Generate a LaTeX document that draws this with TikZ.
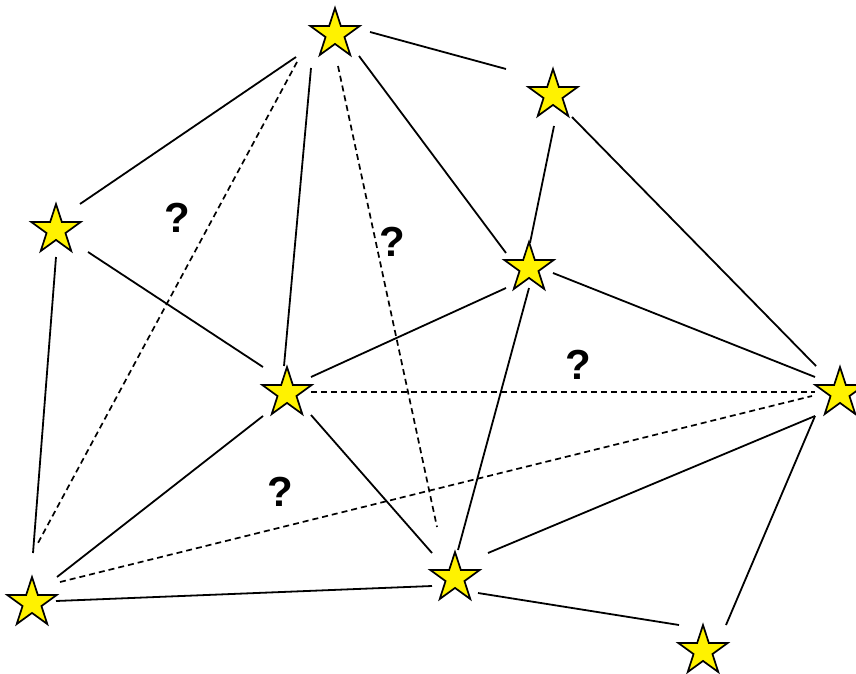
\documentclass[tikz,border=0pt]{standalone}
\usepackage{fontspec}
\setmainfont{Liberation Sans}
\usetikzlibrary{shapes.geometric}
\tikzset{
  starnode/.style={star, star points=5, star point ratio=2.618, minimum size=52pt,
    inner sep=0pt, draw=black, fill=yellow, line width=1.7pt, line join=miter},
  edge/.style={draw=black, line width=1.8pt},
  guess/.style={draw=black, line width=1.7pt, dash pattern=on 6pt off 4pt},
  qmark/.style={font=\fontsize{42}{42}\selectfont\bfseries, inner sep=0pt}
}
\begin{document}
\begin{tikzpicture}[x=1pt,y=-1pt]
  \fill[white] (0,0) rectangle (856,674);
  \useasboundingbox (0,0) rectangle (856,674);

  % stars
  \node[starnode] (A) at (335,34) {};
  \node[starnode] (B) at (553,95) {};
  \node[starnode] (C) at (56,230) {};
  \node[starnode] (D) at (529,268) {};
  \node[starnode] (E) at (287,393) {};
  \node[starnode] (F) at (840,393) {};
  \node[starnode] (G) at (32,603) {};
  \node[starnode] (H) at (455,578) {};
  \node[starnode] (I) at (703,651) {};

  % known links
  \draw[edge] ([shift={(35,-2)}]A.center) -- ([shift={(-47,-26)}]B.center);
  \draw[edge] ([shift={(-39,23)}]A.center) -- ([shift={(24,-26)}]C.center);
  \draw[edge] ([shift={(-24,34)}]A.center) -- ([shift={(-3,-27)}]E.center);
  \draw[edge] ([shift={(24,22)}]A.center) -- ([shift={(-23,-15)}]D.center);
  \draw[edge] ([shift={(1,31)}]B.center) -- ([shift={(1,-25)}]D.center);
  \draw[edge] ([shift={(19,22)}]B.center) -- ([shift={(-24,-27)}]F.center);
  \draw[edge] ([shift={(32,22)}]C.center) -- ([shift={(-24,-26)}]E.center);
  \draw[edge] ([shift={(0,27)}]C.center) -- ([shift={(1,-50)}]G.center);
  \draw[edge] ([shift={(-23,20)}]D.center) -- ([shift={(24,-16)}]E.center);
  \draw[edge] ([shift={(24,5)}]D.center) -- ([shift={(-25,-16)}]F.center);
  \draw[edge] ([shift={(0,20)}]D.center) -- ([shift={(3,-28)}]H.center);
  \draw[edge] ([shift={(-24,23)}]E.center) -- ([shift={(25,-26)}]G.center);
  \draw[edge] ([shift={(24,22)}]E.center) -- ([shift={(-23,-25)}]H.center);
  \draw[edge] ([shift={(24,-2)}]G.center) -- ([shift={(-23,8)}]H.center);
  \draw[edge] ([shift={(33,-25)}]H.center) -- ([shift={(-25,23)}]F.center);
  \draw[edge] ([shift={(23,15)}]H.center) -- ([shift={(-24,-26)}]I.center);
  \draw[edge] ([shift={(-25,23)}]F.center) -- ([shift={(23,-26)}]I.center);

  % unknown links
  \draw[guess] ([shift={(-38,28)}]A.center) -- ([shift={(6,-60)}]G.center);
  \draw[guess] ([shift={(3,32)}]A.center) -- ([shift={(-18,-51)}]H.center);
  \draw[guess] ([shift={(24,-1)}]E.center) -- ([shift={(-25,-1)}]F.center);
  \draw[guess] ([shift={(28,-21)}]G.center) -- ([shift={(-28,3)}]F.center);

  % question marks
  \node[qmark] (q1) at (177,218) {?};
  \node[qmark] (q2) at (392,242) {?};
  \node[qmark] (q3) at (578,365) {?};
  \node[qmark] (q4) at (280,492) {?};
\end{tikzpicture}
\end{document}
